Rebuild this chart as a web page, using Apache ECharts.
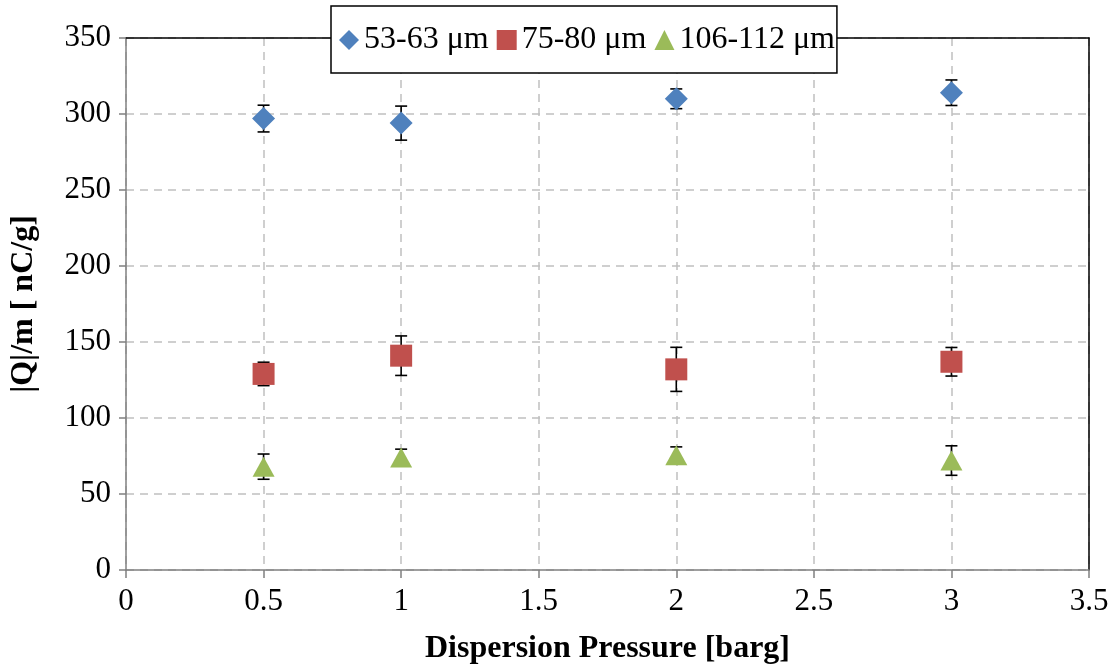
<!DOCTYPE html>
<html>
<head>
<meta charset="utf-8">
<script src="https://cdn.jsdelivr.net/npm/echarts@6/dist/echarts.min.js"></script>
<style>
html,body{margin:0;padding:0;background:#fff;}
#c{width:1118px;height:670px;}
</style>
</head>
<body>
<div id="c"></div>
<script>
const pressures = [0.5, 1, 2, 3];
const seriesNames = ['53-63 μm', '75-80 μm', '106-112 μm'];
const blueValues = [297, 294, 310, 314];
const blueErrors = [8.8, 11.2, 6.5, 8.4];
const redValues = [129, 141, 132, 137];
const redErrors = [7.7, 13, 14.5, 9.4];
const greenValues = [68, 74, 75.5, 72];
const greenErrors = [8.3, 5.5, 5.5, 9.7];

const colors = ['#4F81BD', '#C0504D', '#9BBB59'];
const symbols = ['diamond', 'rect', 'triangle'];
const symbolSizes = [[23, 23], [22, 22], [22, 20]];
const allValues = [blueValues, redValues, greenValues];
const allErrors = [blueErrors, redErrors, greenErrors];

const font = '"Liberation Serif", "Times New Roman", serif';

const errorSeries = allValues.map((vals, s) => ({
  type: 'custom',
  silent: true,
  z: 3,
  data: pressures.map((x, i) => [x, vals[i] - allErrors[s][i], vals[i] + allErrors[s][i]]),
  renderItem: function (params, api) {
    const lo = api.coord([api.value(0), api.value(1)]);
    const hi = api.coord([api.value(0), api.value(2)]);
    const w = 6;
    const st = { stroke: '#000', lineWidth: 1.6 };
    return {
      type: 'group',
      children: [
        { type: 'line', shape: { x1: lo[0], y1: lo[1], x2: hi[0], y2: hi[1] }, style: st },
        { type: 'line', shape: { x1: lo[0] - w, y1: lo[1], x2: lo[0] + w, y2: lo[1] }, style: st },
        { type: 'line', shape: { x1: hi[0] - w, y1: hi[1], x2: hi[0] + w, y2: hi[1] }, style: st }
      ]
    };
  }
}));

const scatterSeries = allValues.map((vals, s) => ({
  name: seriesNames[s],
  type: 'scatter',
  z: 5,
  symbol: symbols[s],
  symbolSize: symbolSizes[s],
  itemStyle: { color: colors[s], opacity: 1 },
  data: pressures.map((x, i) => [x, vals[i]])
}));

const gridLine = { show: true, lineStyle: { color: '#c0c0c0', type: [8, 6], width: 1.5 } };
const borderAxis = {
  axisLine: { show: true, onZero: false, lineStyle: { color: '#000', width: 1.5 } },
  axisTick: { show: false }, axisLabel: { show: false }, splitLine: { show: false }
};

const chart = echarts.init(document.getElementById('c'), null, { renderer: 'canvas' });
chart.setOption({
  animation: false,
  backgroundColor: '#fff',
  grid: { left: 125, right: 29, top: 38, bottom: 98 },
  legend: {
    left: 331, top: 6,
    data: seriesNames.map((n, s) => ({ name: n, icon: symbols[s] })),
    itemWidth: 20, itemHeight: 20, itemGap: 8,
    padding: [18, 2, 17, 8],
    borderColor: '#000', borderWidth: 1.5,
    backgroundColor: '#fff',
    textStyle: { fontFamily: font, fontSize: 32, color: '#000' },
    z: 10
  },
  xAxis: [{
    type: 'value', min: 0, max: 3.5, interval: 0.5,
    name: 'Dispersion Pressure [barg]',
    nameLocation: 'middle', nameGap: 63,
    nameTextStyle: { fontFamily: font, fontSize: 32, fontWeight: 'bold', color: '#000' },
    axisLine: { show: true, onZero: false, lineStyle: { color: '#808080', width: 1.5 } },
    axisTick: { show: true, inside: false, length: 8, lineStyle: { color: '#808080', width: 1.5 } },
    axisLabel: { fontFamily: font, fontSize: 31, color: '#000', margin: 16 },
    splitLine: gridLine
  }, Object.assign({ type: 'value', min: 0, max: 3.5, interval: 0.5, position: 'top' }, borderAxis)],
  yAxis: [{
    type: 'value', min: 0, max: 350, interval: 50,
    name: '|Q|/m [ nC/g]',
    nameLocation: 'middle', nameGap: 86,
    nameTextStyle: { fontFamily: font, fontSize: 32, fontWeight: 'bold', color: '#000' },
    axisLine: { show: true, onZero: false, lineStyle: { color: '#808080', width: 1.5 } },
    axisTick: { show: true, inside: false, length: 7, lineStyle: { color: '#808080', width: 1.5 } },
    axisLabel: { fontFamily: font, fontSize: 31, color: '#000', margin: 15 },
    splitLine: gridLine
  }, Object.assign({ type: 'value', min: 0, max: 350, interval: 50, position: 'right' }, borderAxis)],
  series: errorSeries.concat(scatterSeries)
});
</script>
</body>
</html>
